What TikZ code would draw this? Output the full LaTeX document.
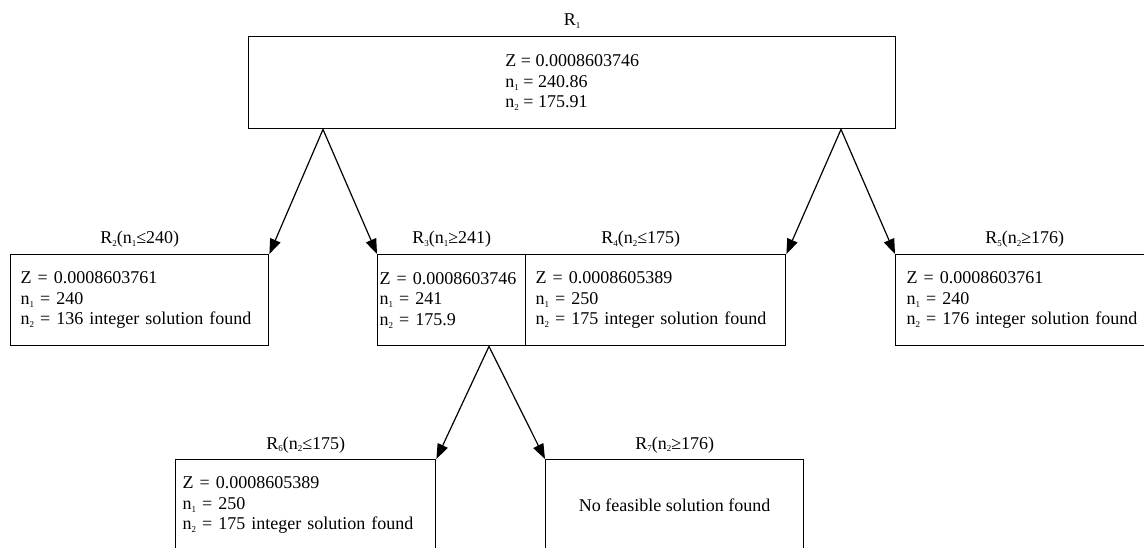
\documentclass[tikz,border=0pt]{standalone}
\usepackage{fontspec}
\setmainfont{Liberation Serif}
\usetikzlibrary{arrows.meta,calc}
\newcommand\sbs[1]{\raisebox{-0.35ex}{\fontsize{9}{9}\selectfont #1}}
\begin{document}
\begin{tikzpicture}[x=1pt,y=-1pt,
 txt/.style={font=\fontsize{18}{20.5}\selectfont},
 box/.style={txt,draw,line width=1.4pt,inner ysep=0pt,minimum height=91pt,anchor=north west,align=left},
 lbl/.style={txt,anchor=base,inner sep=0pt},
 arr/.style={line width=1.2pt,-{Triangle[length=15pt,width=11pt]}}]
\useasboundingbox (0,0) rectangle (1144,548);
\clip (0,0) rectangle (1144,548);
\fill[white] (0,0) rectangle (1144,548);

\node[box, minimum width=647pt, minimum height=92pt] (R1) at (248,36)
  {Z = 0.0008603746\\n\sbs{1} = 240.86\\n\sbs{2} = 175.91};
\node[box, inner xsep=10pt, text width=238pt] (R2) at (10,254)
  {Z = 0.0008603761\\n\sbs{1} = 240\\n\sbs{2} = 136 integer solution found};
\node[box, inner xsep=2pt, text width=144pt] (R3) at (377,254)
  {Z = 0.0008603746\\n\sbs{1} = 241\\n\sbs{2} = 175.9};
\node[box, inner xsep=10pt, text width=240pt] (R4) at (525,254)
  {Z = 0.0008605389\\n\sbs{1} = 250\\n\sbs{2} = 175 integer solution found};
\node[box, inner xsep=11pt, text width=236pt] (R5) at (895,254)
  {Z = 0.0008603761\\n\sbs{1} = 240\\n\sbs{2} = 176 integer solution found};
\node[box, inner xsep=7pt, text width=246pt] (R6) at (175,459)
  {Z = 0.0008605389\\n\sbs{1} = 250\\n\sbs{2} = 175 integer solution found};
\node[box, minimum width=258pt, align=center] (R7) at (545,459)
  {No feasible solution found};

\node[lbl] (L1) at ([yshift=10pt]R1.north) {R\sbs{1}};
\node[lbl] (L2) at ([yshift=10pt]R2.north) {R\sbs{2}(n\sbs{1}≤240)};
\node[lbl] (L3) at ([yshift=10pt]R3.north) {R\sbs{3}(n\sbs{1}≥241)};
\node[lbl] (L4) at ([xshift=-15pt,yshift=10pt]R4.north) {R\sbs{4}(n\sbs{2}≤175)};
\node[lbl] (L5) at ([yshift=10pt]R5.north) {R\sbs{5}(n\sbs{2}≥176)};
\node[lbl] (L6) at ([yshift=10pt]R6.north) {R\sbs{6}(n\sbs{2}≤175)};
\node[lbl] (L7) at ([yshift=10pt]R7.north) {R\sbs{7}(n\sbs{2}≥176)};

\coordinate (p1) at ($(R1.south west)+(75,0)$);
\coordinate (p2) at ($(R1.south west)+(593,0)$);
\coordinate (p3) at ($(R3.south west)+(112,0)$);
\draw[arr] (p1) -- (R2.north east);
\draw[arr] (p1) -- (R3.north west);
\draw[arr] (p2) -- (R4.north east);
\draw[arr] (p2) -- (R5.north west);
\draw[arr] (p3) -- (R6.north east);
\draw[arr] (p3) -- (R7.north west);
\end{tikzpicture}
\end{document}
